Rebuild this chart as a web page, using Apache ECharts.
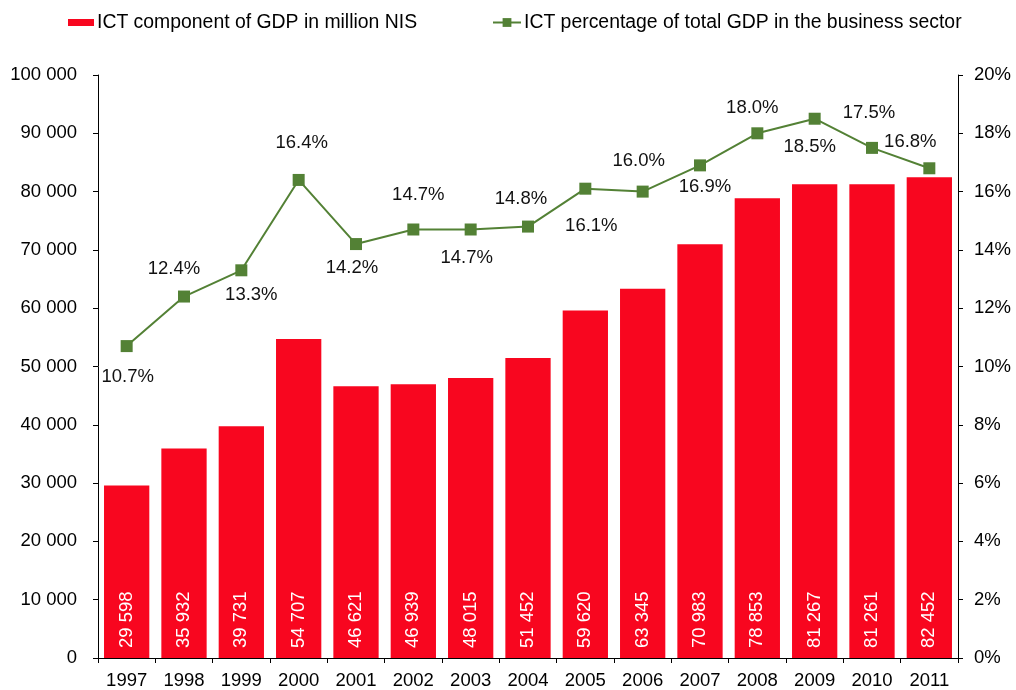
<!DOCTYPE html>
<html>
<head>
<meta charset="utf-8">
<script src="https://cdn.jsdelivr.net/npm/echarts@6/dist/echarts.min.js"></script>
<style>
html,body{margin:0;padding:0;background:#fff;}
#chart{width:1016px;height:690px;}
</style>
</head>
<body>
<div id="chart"></div>
<script>
const years = ['1997','1998','1999','2000','2001','2002','2003','2004','2005','2006','2007','2008','2009','2010','2011'];
const ictGdp = [29598, 35932, 39731, 54707, 46621, 46939, 48015, 51452, 59620, 63345, 70983, 78853, 81267, 81261, 82452];
const ictPct = [10.7, 12.4, 13.3, 16.4, 14.2, 14.7, 14.7, 14.8, 16.1, 16.0, 16.9, 18.0, 18.5, 17.5, 16.8];
const barName = 'ICT component of GDP in million NIS';
const lineName = 'ICT percentage of total GDP in the business sector';

// label offsets (dx, dy) relative to each marker centre
const pctLabelOffsets = [[1,31],[-10,-28],[10,25],[3,-37],[-4,24],[5,-35],[-4,28],[-7,-28],[6,37],[-4,-31],[5,22],[-5,-25],[-5,28],[-3,-35],[-19,-26]];

const FONT = "'Liberation Sans', Arial, Helvetica, sans-serif";
const FS = 18.5;
const LFS = 19.4;

function spaced(v){
  return String(Math.round(v)).replace(/\B(?=(\d{3})+(?!\d))/g, ' ');
}

const lineData = ictPct.map((v,i)=>({
  value: v,
  label: { offset: pctLabelOffsets[i] }
}));

const chart = echarts.init(document.getElementById('chart'), null, {renderer:'canvas'});
chart.setOption({
  animation: false,
  backgroundColor: '#fff',
  textStyle: { fontFamily: FONT },
  legend: [
    { data: [{name: barName, icon: 'rect'}], left: 63, top: 8, itemWidth: 26, itemHeight: 7, itemGap: 0,
      textStyle: { fontFamily: FONT, fontSize: LFS, color: '#000', padding: [0,0,0,-2] } },
    { data: [lineName], left: 487, top: 8, itemWidth: 28, itemHeight: 11, itemGap: 0,
      textStyle: { fontFamily: FONT, fontSize: LFS, color: '#000', padding: [0,0,0,-2] } }
  ],
  grid: { left: 98, right: 58, top: 75, bottom: 32, containLabel: false },
  xAxis: {
    type: 'category',
    data: years,
    boundaryGap: true,
    axisLine: { lineStyle: { color: '#000', width: 1 } },
    axisTick: { show: true, length: 5, lineStyle: { color: '#000' } },
    axisLabel: { color: '#000', fontSize: FS, fontFamily: FONT, margin: 13, interval: 0 }
  },
  yAxis: [
    {
      type: 'value', min: 0, max: 100000, interval: 10000,
      splitLine: { show: false },
      axisLine: { show: true, lineStyle: { color: '#000', width: 1 } },
      axisTick: { show: true, length: 5, lineStyle: { color: '#000' } },
      axisLabel: { color: '#000', fontSize: FS, fontFamily: FONT, margin: 21, formatter: v => spaced(v) }
    },
    {
      type: 'value', min: 0, max: 20, interval: 2, position: 'right',
      splitLine: { show: false },
      axisLine: { show: true, lineStyle: { color: '#000', width: 1 } },
      axisTick: { show: true, length: 5, lineStyle: { color: '#000' } },
      axisLabel: { color: '#000', fontSize: FS, fontFamily: FONT, margin: 16, formatter: '{value}%' }
    }
  ],
  series: [
    {
      name: barName,
      type: 'bar',
      yAxisIndex: 0,
      data: ictGdp,
      barCategoryGap: '21%',
      itemStyle: { color: '#f8061f' },
      label: {
        show: true,
        position: 'insideBottom',
        rotate: 90,
        distance: 10,
        align: 'left',
        verticalAlign: 'middle',
        color: '#fff',
        fontSize: FS,
        fontFamily: FONT,
        formatter: p => spaced(p.value)
      }
    },
    {
      name: lineName,
      type: 'line',
      yAxisIndex: 1,
      data: lineData,
      symbol: 'rect',
      symbolSize: 12,
      lineStyle: { color: '#538135', width: 2 },
      itemStyle: { color: '#538135' },
      label: {
        show: true,
        position: 'inside',
        color: '#111',
        fontSize: FS,
        fontFamily: FONT,
        formatter: p => p.value.toFixed(1) + '%'
      }
    }
  ]
});
</script>
</body>
</html>
